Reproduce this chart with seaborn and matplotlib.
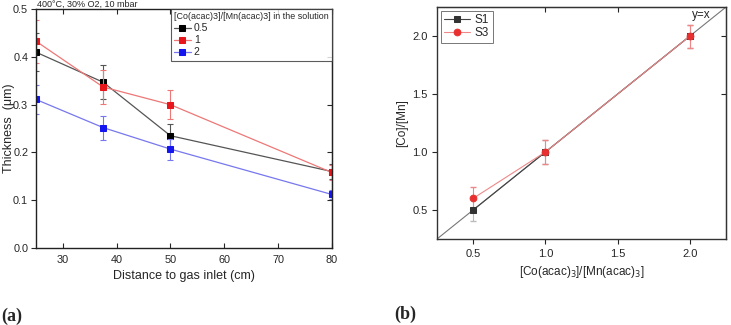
import seaborn as sns
import pandas as pd
import matplotlib.pyplot as plt
import numpy as np

# panel (a): thickness vs distance
distance = [25, 37.5, 50, 80]
ratios = ["0.5", "1", "2"]
thick_05 = [0.410, 0.347, 0.235, 0.160]
thick_1 = [0.433, 0.337, 0.300, 0.158]
thick_2 = [0.311, 0.252, 0.207, 0.112]
err_05 = [0.040, 0.035, 0.024, 0.015]
err_1 = [0.045, 0.035, 0.030, 0.016]
err_2 = [0.030, 0.025, 0.022, 0.010]

# panel (b): measured vs solution ratio
sol_ratio = [0.5, 1.0, 2.0]
s1_ratio = [0.5, 1.0, 2.0]
s3_ratio = [0.6, 1.0, 2.0]
s1_err = [0.1, 0.1, 0.1]
s3_err = [0.1, 0.1, 0.1]

sns.set_style("ticks")
plt.rcParams['font.family'] = ['Liberation Sans', 'DejaVu Sans']

fig = plt.figure(figsize=(7.31, 3.25), dpi=100)
ax1 = fig.add_axes([0.049, 0.237, 0.405, 0.735])
ax2 = fig.add_axes([0.598, 0.265, 0.395, 0.713])

colors = {"0.5": "black", "1": "#e8161b", "2": "#1515f0"}
linecolors = {"0.5": "#555555", "1": "#ee7777", "2": "#7777ee"}
df = pd.DataFrame({
    "dist": distance * 3,
    "thick": thick_05 + thick_1 + thick_2,
    "err": err_05 + err_1 + err_2,
    "ratio": [r for r in ratios for _ in distance],
})

for r in ratios:
    d = df[df["ratio"] == r]
    ax1.errorbar(d["dist"], d["thick"], yerr=d["err"], fmt="none",
                 ecolor=linecolors[r], elinewidth=0.8, capsize=2.5, capthick=0.8)
    sns.lineplot(data=d, x="dist", y="thick", ax=ax1, color=linecolors[r],
                 linewidth=0.9, marker="s", markersize=5,
                 markerfacecolor=colors[r], markeredgecolor=colors[r], label=r)

ax1.set_xlim(25, 80)
ax1.set_ylim(0, 0.5)
ax1.set_xticks([30, 40, 50, 60, 70, 80])
ax1.set_yticks([0.0, 0.1, 0.2, 0.3, 0.4, 0.5])
ax1.set_xlabel("Distance to gas inlet (cm)", fontsize=9, labelpad=4)
ax1.set_ylabel("Thickness  (\u03bcm)", fontsize=9)
ax1.yaxis.set_label_coords(-0.072, 0.5)
ax1.tick_params(axis="both", labelsize=7.8, length=3.5, width=0.8)
ax1.tick_params(axis="x", direction="in", top=True, pad=5)
ax1.tick_params(axis="y", direction="out", pad=2)
ax1r = ax1.secondary_yaxis("right")
ax1r.set_yticks([0.1, 0.2, 0.3, 0.4])
ax1r.tick_params(direction="in", labelright=False, length=3.5)
ax1.text(0.005, 1.0, "400\u00b0C, 30% O2, 10 mbar", transform=ax1.transAxes,
         fontsize=6.5, va="bottom", ha="left")
leg = ax1.legend(title="[Co(acac)3]/[Mn(acac)3] in the solution", loc="upper right",
                 fontsize=7.5, title_fontsize=6.4, frameon=True, fancybox=False,
                 edgecolor="#333333", borderaxespad=0, handlelength=1.6,
                 labelspacing=0.2, borderpad=0.3, handletextpad=0.3)
leg._legend_box.align = "left"
leg.get_frame().set_linewidth(0.8)
for s in ax1.spines.values():
    s.set_linewidth(1.0)
    s.set_color("#222222")

# panel (b)
ax2.plot([0.25, 2.25], [0.25, 2.25], color="#777777", linewidth=0.8, zorder=1)
ax2.errorbar(sol_ratio, s1_ratio, yerr=s1_err, fmt="none", ecolor="#bbbbbb",
             elinewidth=0.8, capsize=2.5)
ax2.errorbar(sol_ratio, s3_ratio, yerr=s3_err, fmt="none", ecolor="#ee8888",
             elinewidth=0.8, capsize=2.5)
dfb = pd.DataFrame({"x": sol_ratio * 2, "y": s1_ratio + s3_ratio,
                    "sample": ["S1"] * 3 + ["S3"] * 3})
sns.lineplot(data=dfb[dfb["sample"] == "S1"], x="x", y="y", ax=ax2, color="#444444",
             linewidth=0.8, marker="s", markersize=4.5, markerfacecolor="#333333",
             markeredgecolor="#333333", label="S1")
sns.lineplot(data=dfb[dfb["sample"] == "S3"], x="x", y="y", ax=ax2, color="#ee8888",
             linewidth=0.8, marker="o", markersize=4.8, markerfacecolor="#e83030",
             markeredgecolor="#e83030", label="S3")
ax2.text(2.08, 2.13, "y=x", fontsize=8.5, ha="center", va="bottom")
ax2.set_xlim(0.25, 2.25)
ax2.set_ylim(0.25, 2.25)
ax2.set_xticks([0.5, 1.0, 1.5, 2.0])
ax2.set_yticks([0.5, 1.0, 1.5, 2.0])
ax2.set_xlabel("[Co(acac)$_3$]/[Mn(acac)$_3$]", fontsize=8.5)
ax2.set_ylabel("[Co]/[Mn]", fontsize=8.5, labelpad=3)
ax2.tick_params(axis="both", labelsize=8, length=3.5, width=0.8, direction="out")
ax2t = ax2.secondary_xaxis("top")
ax2t.set_xticks([1.0, 1.5])
ax2t.tick_params(direction="in", labeltop=False, length=3.5)
ax2r = ax2.secondary_yaxis("right")
ax2r.set_yticks([1.5, 2.0])
ax2r.tick_params(direction="in", labelright=False, length=3.5)
leg2 = ax2.legend(loc="upper left", fontsize=8.5, frameon=True, fancybox=False,
                  edgecolor="#555555", borderaxespad=0.3, handlelength=2.2,
                  labelspacing=0.1, borderpad=0.3, handletextpad=0.4)
leg2.get_frame().set_linewidth(0.7)
for s in ax2.spines.values():
    s.set_linewidth(1.0)
    s.set_color("#333333")

fig.text(0.002, 0.012, "(a)", fontsize=13, fontweight="bold", family="Liberation Serif")
fig.text(0.54, 0.02, "(b)", fontsize=13, fontweight="bold", family="Liberation Serif")

fig.savefig("out.png", dpi=100)
